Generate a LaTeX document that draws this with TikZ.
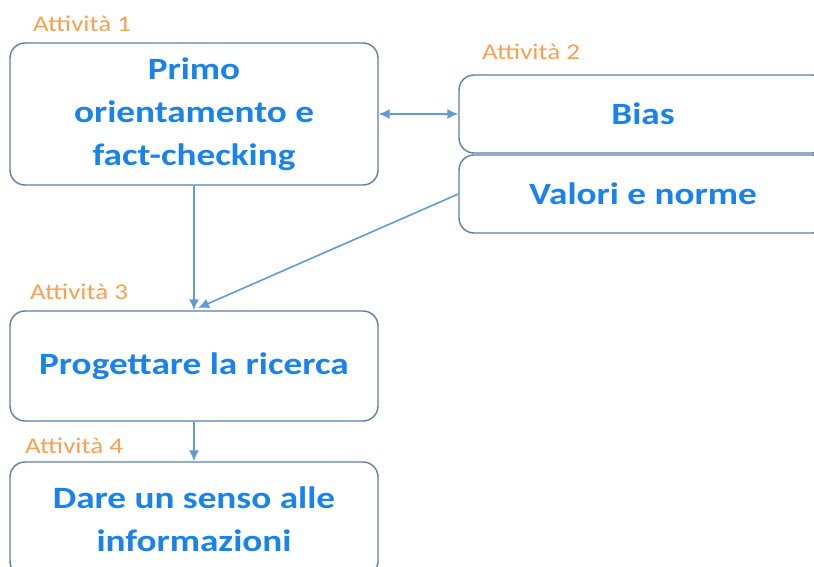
\documentclass[tikz,border=0pt]{standalone}
\usepackage{fontspec}
\setmainfont{Carlito}[FakeStretch=1.2]
\usepackage{tikz}
\usetikzlibrary{arrows.meta}

\definecolor{boxline}{RGB}{95,125,165}
\definecolor{boxtext}{RGB}{25,130,235}
\definecolor{labtext}{RGB}{250,160,80}
\definecolor{arrline}{RGB}{95,155,215}

\tikzset{
  actbox/.style={draw=boxline, line width=1.4pt, rounded corners=15pt,
    minimum width=368pt, align=center, text=boxtext,
    font=\fontsize{31}{43}\selectfont\bfseries},
  actlabel/.style={anchor=west, inner sep=0pt, text=labtext,
    font=\fontsize{22.5}{24}\selectfont},
  flow/.style={draw=arrline, line width=1.6pt, -{Latex[length=11pt,width=10pt]}}
}

\begin{document}
\begin{tikzpicture}[x=1pt, y=-1pt]
      \clip (0,0) rectangle (814,567);

      % boxes
      \node[actbox, minimum height=142pt] (act1) at (194,114) {Primo\\orientamento e\\fact-checking};
      \node[actbox, minimum height=78pt] (bias) at (643,114) {Bias};
      \node[actbox, minimum height=78pt] (valori) at (643,194) {Valori e norme};
      \node[actbox, minimum height=110pt] (act3) at (194,366) {Progettare la ricerca};
      \node[actbox, minimum height=114pt] (act4) at (194,519) {Dare un senso alle\\informazioni};

      % write Attivita 1..4
      \node[actlabel] (lab1) at (33,24) {Attività 1};
      \node[actlabel] (lab2) at (482,52) {Attività 2};
      \node[actlabel] (lab3) at (30,292) {Attività 3};
      \node[actlabel] (lab4) at (25,446) {Attività 4};

      % connections
      \coordinate (in3) at (198,308);
      \draw[flow, {Latex[length=11pt,width=10pt]}-{Latex[length=11pt,width=10pt]}] (act1.east) -- (bias.west);
      \draw[flow] (act1.south) -- (act3.north);
      \draw[flow] (valori.west) -- (in3);
      \draw[flow] (act3.south) -- (act4.north);
    \end{tikzpicture}
\end{document}
